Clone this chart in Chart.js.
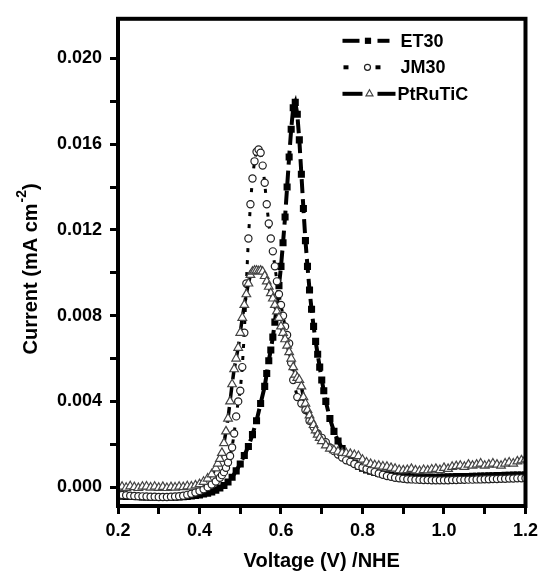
<!DOCTYPE html>
<html>
<head>
<meta charset="utf-8">
<script src="https://cdn.jsdelivr.net/npm/chart.js@4.4.1/dist/chart.umd.min.js"></script>
<style>
  body { margin: 0; background: #fff; }
  #wrap { width: 544px; height: 574px; }
</style>
</head>
<body>
<div id="wrap"><canvas id="cv" width="544" height="574"></canvas></div>
<script>
const FONT = "'Liberation Sans', Arial, Helvetica, sans-serif";

// axis ticks (minor ticks carry an empty label)
const xTicks = [0.2, 0.3, 0.4, 0.5, 0.6, 0.7, 0.8, 0.9, 1.0, 1.1, 1.2];
const xLabels = ['0.2', '0.4', '0.6', '0.8', '1.0', '1.2'];
const yTicks = [0, 0.002, 0.004, 0.006, 0.008, 0.010, 0.012, 0.014, 0.016, 0.018, 0.020];
const yLabels = ['0.000', '0.004', '0.008', '0.012', '0.016', '0.020'];

const seriesNames = ['ET30', 'JM30', 'PtRuTiC'];

// ET30 - voltage (V) / current (mA cm-2)
const et30V = [0.20,0.21,0.22,0.23,0.24,0.25,0.26,0.27,0.28,0.29,
  0.30,0.31,0.32,0.33,0.34,0.35,0.36,0.37,0.38,0.39,
  0.40,0.41,0.42,0.43,0.44,0.45,0.46,0.47,0.48,0.49,
  0.50,0.51,0.52,0.53,0.54,0.55,0.56,
  0.565,0.57,0.575,0.58,0.585,0.59,0.595,0.60,0.605,0.61,
  0.615,0.62,0.625,0.63,0.635,0.64,0.645,0.65,0.655,0.66,
  0.665,0.67,0.675,0.68,0.685,0.69,0.695,0.70,0.705,0.71,
  0.72,0.73,0.74,0.75,0.76,0.77,0.78,0.79,0.80,
  0.81,0.82,0.83,0.84,0.85,0.86,0.87,0.88,0.89,0.90,
  0.91,0.92,0.93,0.94,0.95,0.96,0.97,0.98,0.99,1.00,
  1.01,1.02,1.03,1.04,1.05,1.06,1.07,1.08,1.09,1.10,
  1.11,1.12,1.13,1.14,1.15,1.16,1.17,1.18,1.19,1.20];
const et30I = [-0.00040,-0.00042,-0.00043,-0.00044,-0.00044,-0.00045,-0.00046,-0.00046,-0.00047,-0.00047,
  -0.00048,-0.00048,-0.00048,-0.00048,-0.00047,-0.00046,-0.00045,-0.00043,-0.00041,-0.00039,
  -0.00036,-0.00032,-0.00028,-0.00022,-0.00014,-0.00004,0.00008,0.00024,0.00046,0.00076,
  0.00108,0.00148,0.00190,0.00245,0.00310,0.00390,0.00470,
  0.00530,0.00590,0.00640,0.00700,0.00770,0.00850,0.00940,0.01030,0.01140,0.01260,
  0.01400,0.01540,0.01670,0.01770,0.01795,0.01740,0.01620,0.01460,0.01300,0.01150,
  0.01030,0.00920,0.00830,0.00750,0.00680,0.00620,0.00560,0.00500,0.00450,0.00400,
  0.00320,0.00260,0.00215,0.00180,0.00152,0.00130,0.00112,0.00098,0.00088,
  0.00080,0.00074,0.00069,0.00064,0.00061,0.00058,0.00055,0.00053,0.00051,0.00050,
  0.00049,0.00048,0.00047,0.00047,0.00046,0.00046,0.00046,0.00046,0.00047,0.00047,
  0.00048,0.00048,0.00049,0.00049,0.00050,0.00050,0.00051,0.00051,0.00052,0.00052,
  0.00053,0.00053,0.00054,0.00054,0.00055,0.00055,0.00056,0.00056,0.00057,0.00057];

// JM30
const jm30V = [0.20,0.21,0.22,0.23,0.24,0.25,0.26,0.27,0.28,0.29,
  0.30,0.31,0.32,0.33,0.34,0.35,0.36,0.37,0.38,0.39,
  0.40,0.41,0.42,0.43,0.44,0.45,
  0.455,0.46,0.465,0.47,0.475,0.48,0.485,0.49,0.495,0.50,
  0.505,0.51,0.515,0.52,0.525,0.53,0.535,0.54,0.545,0.55,
  0.555,0.56,0.565,0.57,0.575,0.58,0.585,0.59,0.595,0.60,
  0.605,0.61,0.615,0.62,0.625,0.63,
  0.64,0.65,0.66,0.67,0.68,0.69,0.70,0.71,0.72,0.73,
  0.74,0.75,0.76,0.77,0.78,0.79,0.80,
  0.81,0.82,0.83,0.84,0.85,0.86,0.87,0.88,0.89,0.90,
  0.91,0.92,0.93,0.94,0.95,0.96,0.97,0.98,0.99,1.00,
  1.01,1.02,1.03,1.04,1.05,1.06,1.07,1.08,1.09,1.10,
  1.11,1.12,1.13,1.14,1.15,1.16,1.17,1.18,1.19,1.20];
const jm30I = [-0.00035,-0.00037,-0.00038,-0.00040,-0.00041,-0.00042,-0.00043,-0.00044,-0.00045,-0.00045,
  -0.00046,-0.00046,-0.00046,-0.00045,-0.00044,-0.00042,-0.00040,-0.00036,-0.00031,-0.00025,
  -0.00018,-0.00010,0.00000,0.00012,0.00026,0.00044,
  0.00056,0.00070,0.00090,0.00115,0.00145,0.00185,0.00250,0.00330,0.00400,0.00450,
  0.00560,0.00720,0.00950,0.01160,0.01320,0.01440,0.01520,0.01565,0.01575,0.01560,
  0.01500,0.01420,0.01320,0.01230,0.01160,0.01100,0.01030,0.00960,0.00900,0.00850,
  0.00800,0.00750,0.00710,0.00670,0.00580,0.00500,
  0.00420,0.00390,0.00360,0.00310,0.00280,0.00250,0.00230,0.00210,0.00185,0.00168,
  0.00152,0.00138,0.00125,0.00118,0.00108,0.00099,0.00092,
  0.00085,0.00078,0.00071,0.00064,0.00058,0.00052,0.00048,0.00044,0.00041,0.00039,
  0.00037,0.00036,0.00035,0.00034,0.00033,0.00033,0.00032,0.00032,0.00032,0.00032,
  0.00032,0.00033,0.00033,0.00034,0.00034,0.00035,0.00035,0.00036,0.00036,0.00037,
  0.00037,0.00038,0.00038,0.00039,0.00039,0.00040,0.00040,0.00041,0.00041,0.00042];

// PtRuTiC
const ptV = [0.20,0.21,0.22,0.23,0.24,0.25,0.26,0.27,0.28,0.29,
  0.30,0.31,0.32,0.33,0.34,0.35,0.36,0.37,0.38,0.39,
  0.40,0.41,0.42,0.43,0.44,
  0.445,0.45,0.455,0.46,0.465,0.47,0.475,0.48,0.485,0.49,
  0.495,0.50,0.505,0.51,0.515,0.52,0.525,0.53,0.535,0.54,
  0.545,0.55,0.555,0.56,0.565,0.57,0.575,0.58,0.585,0.59,
  0.595,0.60,0.605,0.61,0.615,0.62,0.625,0.63,0.635,0.64,
  0.645,0.65,0.655,0.66,0.665,0.67,0.675,0.68,0.685,0.69,
  0.695,0.70,
  0.71,0.72,0.73,0.74,0.75,0.76,0.77,0.78,0.79,0.80,
  0.81,0.82,0.83,0.84,0.85,0.86,0.87,0.88,0.89,0.90,
  0.91,0.92,0.93,0.94,0.95,0.96,0.97,0.98,0.99,1.00,
  1.01,1.02,1.03,1.04,1.05,1.06,1.07,1.08,1.09,1.10,
  1.11,1.12,1.13,1.14,1.15,1.16,1.17,1.18,1.19,1.20];
const ptI = [-0.00005,0.00002,-0.00003,0.00004,0.00000,-0.00004,0.00002,0.00003,-0.00002,0.00002,
  -0.00003,0.00001,-0.00004,0.00000,-0.00002,0.00002,0.00000,0.00004,0.00003,0.00008,
  0.00014,0.00025,0.00040,0.00060,0.00088,
  0.00110,0.00132,0.00160,0.00205,0.00260,0.00320,0.00400,0.00480,0.00550,0.00600,
  0.00650,0.00720,0.00790,0.00850,0.00900,0.00950,0.00990,0.01005,0.01010,0.01010,
  0.01008,0.01010,0.01005,0.00985,0.00960,0.00935,0.00905,0.00880,0.00850,0.00820,
  0.00790,0.00750,0.00720,0.00690,0.00660,0.00630,0.00600,0.00560,0.00525,0.00510,
  0.00500,0.00470,0.00420,0.00390,0.00360,0.00335,0.00310,0.00290,0.00265,0.00245,
  0.00230,0.00215,
  0.00195,0.00180,0.00172,0.00166,0.00160,0.00158,0.00155,0.00150,0.00145,0.00128,
  0.00115,0.00108,0.00102,0.00100,0.00096,0.00095,0.00090,0.00086,0.00080,0.00078,
  0.00080,0.00085,0.00078,0.00075,0.00080,0.00078,0.00082,0.00085,0.00080,0.00090,
  0.00085,0.00095,0.00098,0.00100,0.00095,0.00105,0.00100,0.00105,0.00110,0.00100,
  0.00105,0.00110,0.00105,0.00100,0.00110,0.00115,0.00110,0.00120,0.00125,0.00130];

function pairs(xs, ys) {
  return xs.map((v, i) => ({ x: v, y: ys[i] }));
}

// frame around the plot area
const framePlugin = {
  id: 'frame',
  afterDraw(chart) {
    const { ctx, chartArea: a } = chart;
    ctx.save();
    ctx.strokeStyle = '#000';
    ctx.lineWidth = 4;
    ctx.strokeRect(a.left, a.top, a.right - a.left, a.bottom - a.top);
    ctx.restore();
  }
};

// legend with line + marker + line, like the original figure
const lineLegend = {
  id: 'lineLegend',
  afterDraw(chart) {
    const { ctx, chartArea: a } = chart;
    const x0 = a.right - 183;
    ctx.save();
    chart.data.datasets.forEach((ds, i) => {
      const y = a.top + 22 + i * 26.5;
      const lg = ds.legendLook;
      ctx.strokeStyle = '#000';
      ctx.lineWidth = lg.lineWidth;
      ctx.setLineDash([]);
      ctx.lineCap = 'butt';
      lg.segs.forEach(s => {
        ctx.beginPath();
        ctx.moveTo(x0 + s[0], y);
        ctx.lineTo(x0 + s[1], y);
        ctx.stroke();
      });
      ctx.fillStyle = ds.pointBackgroundColor;
      ctx.strokeStyle = ds.pointBorderColor;
      ctx.lineWidth = ds.pointBorderWidth;
      Chart.helpers.drawPoint(ctx, {
        pointStyle: ds.pointStyle,
        radius: lg.radius,
        borderWidth: ds.pointBorderWidth,
        rotation: 0
      }, x0 + lg.mark, y);
      ctx.fillStyle = '#000';
      ctx.font = 'bold 18px ' + FONT;
      ctx.textBaseline = 'middle';
      ctx.textAlign = 'left';
      ctx.fillText(ds.label, x0 + lg.textX, y + 1);
    });
    ctx.restore();
  }
};

// y title with a real superscript
const yTitle = {
  id: 'yTitle',
  afterDraw(chart) {
    const { ctx, chartArea: a } = chart;
    const main = 'Current (mA cm', sup = '-2', close = ')';
    ctx.save();
    ctx.translate(31, (a.top + a.bottom) / 2 + 7);
    ctx.rotate(-Math.PI / 2);
    ctx.fillStyle = '#000';
    ctx.textBaseline = 'middle';
    ctx.textAlign = 'left';
    ctx.font = 'bold 20px ' + FONT;
    const w1 = ctx.measureText(main).width;
    const w3 = ctx.measureText(close).width;
    ctx.font = 'bold 14px ' + FONT;
    const w2 = ctx.measureText(sup).width;
    let x = -(w1 + w2 + w3) / 2;
    ctx.font = 'bold 20px ' + FONT;
    ctx.fillText(main, x, 0);
    x += w1 + 1;
    ctx.font = 'bold 14px ' + FONT;
    ctx.fillText(sup, x, -9);
    x += w2;
    ctx.font = 'bold 20px ' + FONT;
    ctx.fillText(close, x, 0);
    ctx.restore();
  }
};

const tickFont = { family: FONT, size: 18, weight: 'bold' };

new Chart(document.getElementById('cv'), {
  type: 'scatter',
  data: {
    datasets: [
      {
        label: seriesNames[0],
        data: pairs(et30V, et30I),
        showLine: true,
        borderColor: '#000',
        borderWidth: 4,
        borderDash: [14, 6],
        pointStyle: 'rect',
        pointRadius: 5,
        pointBackgroundColor: '#000',
        pointBorderColor: '#000',
        pointBorderWidth: 0,
        order: 3,
        legendLook: { segs: [[0, 17], [35, 47]], mark: 25.5, radius: 4.4, lineWidth: 4, textX: 58 }
      },
      {
        label: seriesNames[1],
        data: pairs(jm30V, jm30I),
        showLine: true,
        borderColor: '#000',
        borderWidth: 3,
        borderDash: [4, 8],
        pointStyle: 'circle',
        pointRadius: 3.6,
        pointBackgroundColor: '#fff',
        pointBorderColor: '#222',
        pointBorderWidth: 1.2,
        order: 2,
        legendLook: { segs: [[1, 6], [33, 38]], mark: 25, radius: 3, lineWidth: 4, textX: 58 }
      },
      {
        label: seriesNames[2],
        data: pairs(ptV, ptI),
        showLine: true,
        borderColor: '#000',
        borderWidth: 3.5,
        borderDash: [16, 6],
        pointStyle: 'triangle',
        pointRadius: 5,
        pointBackgroundColor: '#fff',
        pointBorderColor: '#444',
        pointBorderWidth: 1.2,
        order: 1,
        legendLook: { segs: [[0, 20], [35, 53]], mark: 27, radius: 4, lineWidth: 4, textX: 55 }
      }
    ]
  },
  options: {
    responsive: false,
    animation: false,
    layout: { padding: { top: 15, right: 16, left: 0, bottom: 0 } },
    plugins: {
      legend: { display: false },
      tooltip: { enabled: false }
    },
    scales: {
      x: {
        type: 'linear',
        min: 0.2,
        max: 1.2,
        afterBuildTicks: s => { s.ticks = xTicks.map(v => ({ value: v })); },
        afterFit: s => { s.height = 68; },
        border: { display: false },
        grid: { drawOnChartArea: false, drawTicks: true, tickLength: 8, tickWidth: 3, tickColor: '#000' },
        ticks: {
          autoSkip: false,
          maxRotation: 0,
          padding: 6,
          color: '#000',
          font: tickFont,
          callback: v => {
            const s = Number(v).toFixed(1);
            return xLabels.includes(s) ? s : '';
          }
        },
        title: {
          display: true,
          text: 'Voltage (V) /NHE',
          color: '#000',
          font: { family: FONT, size: 20, weight: 'bold' },
          padding: { top: 1, bottom: 1 }
        }
      },
      y: {
        type: 'linear',
        min: -0.00088,
        max: 0.02185,
        afterBuildTicks: s => { s.ticks = yTicks.map(v => ({ value: v })); },
        afterFit: s => { s.width = 118; },
        border: { display: false },
        grid: { drawOnChartArea: false, drawTicks: true, tickLength: 8, tickWidth: 3, tickColor: '#000' },
        ticks: {
          autoSkip: false,
          padding: 8,
          color: '#000',
          font: tickFont,
          callback: v => {
            const s = Number(v).toFixed(3);
            return yLabels.includes(s) ? s : '';
          }
        }
      }
    }
  },
  plugins: [framePlugin, lineLegend, yTitle]
});
</script>
</body>
</html>
